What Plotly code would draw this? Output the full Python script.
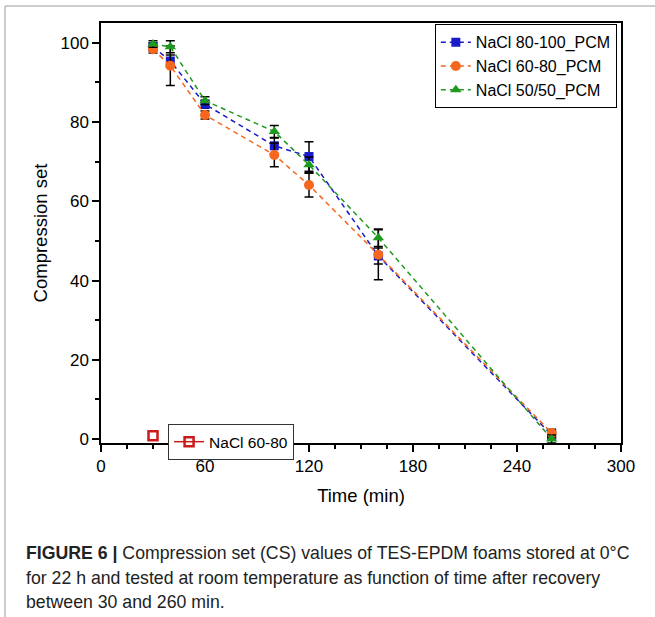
import plotly.graph_objects as go

time_min = [30, 40, 60, 100, 120, 160, 260]

cs_80_100 = [99.0, 95.4, 84.5, 74.0, 71.3, 46.2, 1.0]
err_80_100 = [1.0, 1.5, 1.0, 2.0, 3.7, 2.0, 1.0]

cs_60_80 = [98.4, 94.2, 81.8, 71.7, 64.1, 46.5, 1.5]
err_60_80 = [1.0, 5.0, 1.0, 3.0, 3.0, 6.3, 1.0]

cs_50_50 = [99.7, 99.0, 85.4, 77.6, 69.2, 50.8, 0.0]
err_50_50 = [0.8, 1.5, 1.0, 1.5, 2.0, 2.2, 1.0]

ref_time = [30]
ref_cs = [0.8]

names = ["NaCl 80-100_PCM", "NaCl 60-80_PCM", "NaCl 50/50_PCM"]
colors = ["#1a1ac8", "#f5661e", "#1e9a1e"]
symbols = ["square", "circle", "triangle-up"]
sizes = [9, 10, 10]
ys = [cs_80_100, cs_60_80, cs_50_50]
errs = [err_80_100, err_60_80, err_50_50]

fig = go.Figure()
for name, c, s, sz, y, e in zip(names, colors, symbols, sizes, ys, errs):
    fig.add_trace(go.Scatter(
        x=time_min, y=y, name=name, mode="lines+markers",
        line=dict(color=c, width=1.5, dash="5px,4px"),
        marker=dict(symbol=s, size=sz, color=c),
        error_y=dict(type="data", array=e, visible=True, color="black",
                     thickness=1.5, width=4.5),
        legend="legend",
    ))

fig.add_trace(go.Scatter(
    x=ref_time, y=ref_cs, name="NaCl 60-80", mode="lines+markers",
    line=dict(color="#cc1a1a", width=1.5),
    marker=dict(symbol="square-open", size=9, color="#cc1a1a",
                line=dict(width=2.5, color="#cc1a1a")),
    legend="legend2",
))

FONT = "Liberation Sans, Arial, sans-serif"

fig.update_layout(
    width=655, height=617,
    margin=dict(l=101, r=34, t=23, b=174, pad=0),
    paper_bgcolor="white", plot_bgcolor="white",
    font=dict(family=FONT, color="black"),
    showlegend=True,
    legend=dict(
        x=0.992, y=0.997, xanchor="right", yanchor="top",
        bordercolor="black", borderwidth=1, bgcolor="white",
        font=dict(size=16, family=FONT),
        tracegroupgap=0, itemwidth=30,
    ),
    legend2=dict(
        x=0.129, y=0.045, xanchor="left", yanchor="top",
        bordercolor="#333333", borderwidth=1, bgcolor="white",
        font=dict(size=15.5, family=FONT), itemwidth=30,
    ),
    xaxis=dict(
        range=[0, 300], tick0=0, dtick=60,
        showline=True, linecolor="black", linewidth=1.5, mirror=True,
        ticks="outside", ticklen=7, tickwidth=1.5, tickcolor="black",
        minor=dict(dtick=15, ticks="outside", ticklen=4, tickwidth=1.5, tickcolor="black"),
        showgrid=False, zeroline=False,
        tickfont=dict(size=17),
        title=dict(text="Time (min)", font=dict(size=18.5), standoff=14),
    ),
    yaxis=dict(
        range=[-1, 105], tick0=0, dtick=20,
        showline=True, linecolor="black", linewidth=1.5, mirror=True,
        ticks="outside", ticklen=7, tickwidth=1.5, tickcolor="black",
        minor=dict(dtick=10, ticks="outside", ticklen=4, tickwidth=1.5, tickcolor="black"),
        showgrid=False, zeroline=False,
        tickfont=dict(size=17),
        title=dict(text="Compression set", font=dict(size=18.5), standoff=8),
    ),
)

# outer figure frame (top and left edges)
fig.add_shape(type="line", xref="paper", yref="paper",
              x0=(5 - 101) / 520, x1=(655 - 101) / 520,
              y0=(443 - 6) / 420, y1=(443 - 6) / 420,
              line=dict(color="#9a9a9a", width=1))
fig.add_shape(type="line", xref="paper", yref="paper",
              x0=(5 - 101) / 520, x1=(5 - 101) / 520,
              y0=(443 - 6) / 420, y1=(443 - 620) / 420,
              line=dict(color="#9a9a9a", width=1))

caption = [
    "<b>FIGURE 6 |</b> Compression set (CS) values of TES-EPDM foams stored at 0°C",
    "for 22 h and tested at room temperature as function of time after recovery",
    "between 30 and 260 min.",
]
cap_y = [552.5, 577.5, 602]
for txt, py in zip(caption, cap_y):
    fig.add_annotation(
        text=txt, xref="paper", yref="paper",
        x=(24 - 101) / 520, y=(443 - py) / 420,
        xanchor="left", yanchor="middle", showarrow=False, align="left",
        font=dict(size=17.7, family=FONT, color="#222222"),
    )

fig.write_html("out.html")
